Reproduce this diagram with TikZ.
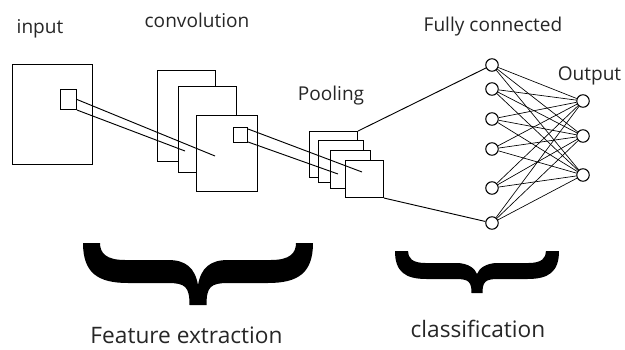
\documentclass[tikz,border=0pt]{standalone}
\usepackage{fontspec}
\setmainfont{Open Sans}
\usetikzlibrary{calc}

% curly brace drawn as a filled outline; parameters are set with \def before use
\newcommand\fatbrace{%
  \pgfmathsetmacro\bM{(\bL+\bR)/2}%
  \fill[black]
   (\bL,\bT) -- ({\bL+\bS},\bT)
   .. controls ({\bL+\bS},{\bT+10*\bk}) and ({\bL+\bS+6*\bk},\bI) .. ({\bL+\bS+25*\bk},\bI)
   -- ({\bM-30*\bk},\bI)
   .. controls ({\bM-12*\bk},\bI) and ({\bM-3*\bk},{\bI+8*\bk}) .. (\bM,\bC)
   .. controls ({\bM+3*\bk},{\bI+8*\bk}) and ({\bM+12*\bk},\bI) .. ({\bM+30*\bk},\bI)
   -- ({\bR-\bS-25*\bk},\bI)
   .. controls ({\bR-\bS-6*\bk},\bI) and ({\bR-\bS},{\bT+10*\bk}) .. ({\bR-\bS},\bT)
   -- (\bR,\bT)
   .. controls (\bR,{\bT+30*\bk}) and ({\bR-15*\bk},\bO) .. ({\bR-45*\bk},\bO)
   -- ({\bM+30*\bk},\bO)
   .. controls ({\bM+\bW+4*\bk},\bO) and ({\bM+\bW},{\bO+4*\bk}) .. ({\bM+\bW},\bB)
   -- ({\bM-\bW},\bB)
   .. controls ({\bM-\bW},{\bO+4*\bk}) and ({\bM-\bW-4*\bk},\bO) .. ({\bM-30*\bk},\bO)
   -- ({\bL+45*\bk},\bO)
   .. controls ({\bL+15*\bk},\bO) and (\bL,{\bT+30*\bk}) .. (\bL,\bT) -- cycle;}

\begin{document}
\begin{tikzpicture}[x=0.75pt,y=-0.75pt,
  sheet/.style 2 args={draw,fill=white,line width=0.8pt,inner sep=0pt,anchor=north west,
    minimum width=#1*0.75pt,minimum height=#2*0.75pt},
  link/.style={line width=0.7pt},
  neuron/.style={circle,draw,fill=white,line width=0.8pt,inner sep=0pt,minimum size=12.5*0.75pt},
  wire/.style={line width=0.5pt},
  lbl/.style={text=black!85,anchor=base,font=\fontsize{14.3}{16}\selectfont,inner sep=0pt},
  biglbl/.style={text=black!85,anchor=base,font=\fontsize{17}{20}\selectfont,inner sep=0pt}]
\useasboundingbox (0,0) rectangle (625,350);

% input image with its receptive field
\node[sheet={80}{100}] (inp) at (12,64) {};
\node[sheet={16}{20}] (inK) at (60,89) {};

% convolution feature maps
\node[sheet={58}{91}] (cv1) at (157,70) {};
\node[sheet={58}{86}] (cv2) at (178,86) {};
\node[sheet={61}{76}] (cv3) at (196,115) {};
\node[sheet={14}{15}] (cvK) at (233,127) {};

% projection of the input field onto the feature maps
\coordinate (e1) at (215,156);
\coordinate (e2) at (185,151);
\draw[link] (inK.east) -- (e1);
\draw[link] (inK.south east) -- (e2);

% pooled maps
\node[sheet={48}{46}] (p1) at (309,131) {};
\node[sheet={45}{42}] (p2) at (318,140) {};
\node[sheet={40}{38}] (p3) at (330,150) {};
\node[sheet={38}{37}] (p4) at (345,160) {};

\coordinate (f1) at (362,172);
\coordinate (f2) at (338,174);
\draw[link] ([yshift=-1.5pt]cvK.north east) -- (f1);
\draw[link] ([yshift=0.8pt]cvK.south east) -- (f2);

% fully connected layer and outputs
\foreach \i/\y in {1/65,2/89,3/119,4/149,5/188,6/223}
  \node[neuron] (h\i) at (492,\y) {};
\foreach \j/\y in {1/101,2/136,3/175}
  \node[neuron] (o\j) at (583,\y) {};
\foreach \i in {1,...,6}
  \foreach \j in {1,2,3}
    \draw[wire] (h\i) -- (o\j);

\draw[link] (p1.north east) -- (h1);
\draw[link] (p4.south east) -- (h6);

% labels
\node[lbl] (tIn) at (40,33) {input};
\node[lbl] (tCv) at (197,27) {convolution};
\node[lbl] (tPo) at (331,100) {Pooling};
\node[lbl] (tFc) at (493,31) {Fully connected};
\node[lbl] (tOut) at (589.5,80) {Output};

% grouping braces
\begin{scope}
\def\bL{83}\def\bR{313}\def\bT{243}\def\bI{260}\def\bO{283}\def\bC{285}\def\bB{305}\def\bS{17}\def\bW{8.5}\def\bk{1}
\fatbrace
\end{scope}
\begin{scope}
\def\bL{395}\def\bR{559}\def\bT{251}\def\bI{263}\def\bO{279}\def\bC{274}\def\bB{293}\def\bS{13}\def\bW{5.5}\def\bk{0.7}
\fatbrace
\end{scope}

\node[biglbl] (tFe) at (186.5,343) {Feature extraction};
\node[biglbl] (tCl) at (478,337) {classification};
\end{tikzpicture}
\end{document}
